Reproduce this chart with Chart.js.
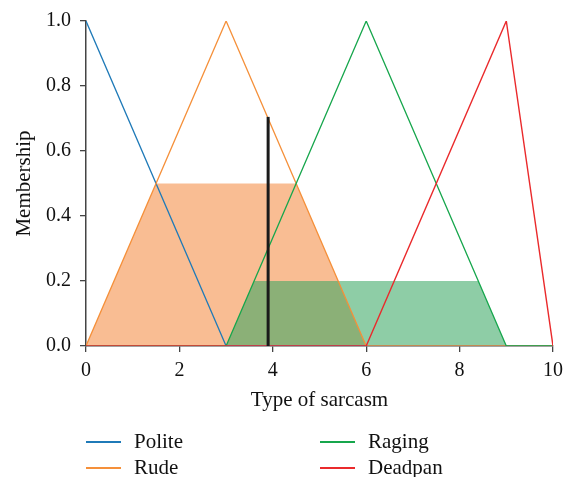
<!DOCTYPE html>
<html><head><meta charset="utf-8">
<script src="https://cdn.jsdelivr.net/npm/chart.js@4/dist/chart.umd.min.js"></script>
<style>
html,body{margin:0;padding:0;background:#fff;}
#wrap{position:relative;width:575px;height:477px;}
canvas{position:absolute;left:0;top:0;}
.lg{position:absolute;font-family:"Liberation Serif","DejaVu Serif",serif;font-size:21px;color:#111;line-height:22px;white-space:nowrap;}
.lk{position:absolute;height:2px;width:35px;}
</style></head>
<body><div id="wrap"><canvas id="c" width="575" height="477"></canvas><div id="legend"></div></div>
<script>
// Membership functions (x, y)
const politeX = [0, 3, 10];           const politeY = [1, 0, 0];
const rudeX   = [0, 3, 6, 10];        const rudeY   = [0, 1, 0, 0];
const ragingX = [0, 3, 6, 9, 10];     const ragingY = [0, 0, 1, 0, 0];
const deadpanX= [0, 6, 9, 10];        const deadpanY= [0, 0, 1, 0];
// Clipped (activated) regions
const rudeCutX   = [0, 1.5, 4.5, 6];  const rudeCutY   = [0, 0.5, 0.5, 0];
const ragingCutX = [3, 3.6, 8.4, 9];  const ragingCutY = [0, 0.2, 0.2, 0];
// Crisp input
const inputX = [3.9, 3.9];            const inputY = [0, 0.705];
const xTicks = [0, 2, 4, 6, 8, 10];
const yTicks = [0, 0.2, 0.4, 0.6, 0.8, 1.0];
const seriesNames = ['Polite', 'Rude', 'Raging', 'Deadpan'];
const colors = ['#1f7ab8', '#f5903a', '#16a64c', '#ea2a2c'];

const pts = (xs, ys) => xs.map((x, i) => ({x, y: ys[i]}));
const TICKFONT = {family: '"Liberation Serif","DejaVu Serif",serif', size: 20};
const TITLEFONT = {family: '"Liberation Serif","DejaVu Serif",serif', size: 21};

const datasets = [
  {label: 'rudeCut', data: pts(rudeCutX, rudeCutY), fill: 'origin', backgroundColor: '#f9bd93', borderWidth: 0, pointRadius: 0, order: 10},
  {label: 'ragingCut', data: pts(ragingCutX, ragingCutY), fill: 'origin', backgroundColor: 'rgba(57,167,99,0.57)', borderWidth: 0, pointRadius: 0, order: 9},
  {label: seriesNames[0], data: pts(politeX, politeY), borderColor: colors[0], borderWidth: 1.3, pointRadius: 0, fill: false, order: 6},
  {label: seriesNames[1], data: pts(rudeX, rudeY), borderColor: colors[1], borderWidth: 1.3, pointRadius: 0, fill: false, order: 5},
  {label: seriesNames[2], data: pts(ragingX, ragingY), borderColor: colors[2], borderWidth: 1.3, pointRadius: 0, fill: false, order: 4},
  {label: seriesNames[3], data: pts(deadpanX, deadpanY), borderColor: colors[3], borderWidth: 1.4, pointRadius: 0, fill: false, order: 3},
  {label: 'input', data: pts(inputX, inputY), borderColor: '#1a1a1a', borderWidth: 3, pointRadius: 0, fill: false, order: 1}
];

new Chart(document.getElementById('c'), {
  type: 'line',
  data: {datasets},
  options: {
    responsive: false, animation: false,
    layout: {padding: {top: 21, right: 22, left: 0, bottom: 64}},
    plugins: {legend: {display: false}, tooltip: {enabled: false}},
    elements: {line: {tension: 0}},
    scales: {
      x: {
        type: 'linear', min: 0, max: 10,
        afterBuildTicks: s => { s.ticks = xTicks.map(v => ({value: v})); },
        afterFit: s => { s.height = 67; },
        ticks: {font: TICKFONT, color: '#111', padding: 7, callback: v => String(v), maxRotation: 0},
        grid: {drawOnChartArea: false, drawTicks: true, tickLength: 6, color: '#444', lineWidth: 1.3},
        border: {display: true, color: '#444', width: 1.5},
        title: {display: true, text: 'Type of sarcasm', font: TITLEFONT, color: '#111', padding: {top: 5, bottom: 0}}
      },
      y: {
        type: 'linear', min: 0, max: 1,
        afterBuildTicks: s => { s.ticks = yTicks.map(v => ({value: v})); },
        afterFit: s => { s.width = 86; },
        ticks: {font: TICKFONT, color: '#111', padding: 9, callback: v => Number(v).toFixed(1)},
        grid: {drawOnChartArea: false, drawTicks: true, tickLength: 6, color: '#444', lineWidth: 1.3},
        border: {display: true, color: '#444', width: 1.5},
        title: {display: true, text: 'Membership', font: TITLEFONT, color: '#111', padding: {top: 12, bottom: 0}}
      }
    }
  }
});

// Legend (2 columns, column-major)
const lgPos = [[86, 442], [86, 468], [320, 442], [320, 468]];
const lg = document.getElementById('legend');
seriesNames.forEach((name, i) => {
  const [lx, ly] = lgPos[i];
  const key = document.createElement('div');
  key.className = 'lk'; key.style.left = lx + 'px'; key.style.top = (ly - 1) + 'px'; key.style.background = colors[i];
  lg.appendChild(key);
  const t = document.createElement('div');
  t.className = 'lg'; t.textContent = name;
  t.style.left = (lx + 48) + 'px'; t.style.top = (ly - 12) + 'px';
  lg.appendChild(t);
});
</script></body></html>
